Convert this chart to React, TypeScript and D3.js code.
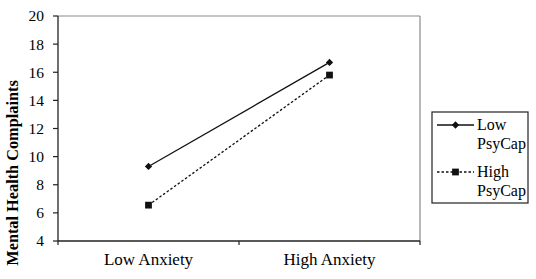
import React from "react";
import * as d3 from "d3";

const categories = ["Low Anxiety", "High Anxiety"];
const lowPsyCap = [9.3, 16.7];
const highPsyCap = [6.55, 15.8];
const yTicks = [4, 6, 8, 10, 12, 14, 16, 18, 20];
const seriesNames = [["Low", "PsyCap"], ["High", "PsyCap"]];

const W = 536;
const H = 279;
const m = { left: 58, right: 420, top: 16, bottom: 241 };
const FONT = "Liberation Serif, serif";
const INK = "#111";

export default function App() {
  const x = d3.scaleBand<string>().domain(categories).range([m.left, m.right]).padding(0);
  const y = d3.scaleLinear().domain([4, 20]).range([m.bottom, m.top]);
  const cx = (c: string) => (x(c) as number) + x.bandwidth() / 2;

  const line = d3
    .line<number>()
    .x((_, i) => cx(categories[i]))
    .y((v) => y(v));

  const diamond = d3.symbol().type(d3.symbolDiamond2).size(34)() as string;
  const square = d3.symbol().type(d3.symbolSquare).size(46)() as string;

  const xEdges = [m.left, ...categories.map((c) => (x(c) as number) + x.bandwidth())];

  const lgX = 432, lgY = 112, lgW = 96, lgH = 91;
  const lineX0 = 437, lineX1 = 474;
  const rowY = [125, 172];

  return (
    <svg width={W} height={H} style={{ position: "absolute", left: 0, top: 0, background: "#fff" }}>
      <rect x={0} y={0} width={W} height={H} fill="#fff" />
      <line x1={m.left} x2={m.right} y1={m.top} y2={m.top} stroke="#8a8a8a" strokeWidth={1.2} />
      <line x1={m.right} x2={m.right} y1={m.top} y2={m.bottom} stroke="#8a8a8a" strokeWidth={1.2} />
      <line x1={m.left} x2={m.left} y1={m.top} y2={m.bottom} stroke="#222" strokeWidth={1.3} />
      {yTicks.map((t) => (
        <g key={t}>
          <line x1={m.left - 5} x2={m.left} y1={y(t)} y2={y(t)} stroke="#222" strokeWidth={1.2} />
          <text x={44} y={y(t)} dy="0.35em" textAnchor="end" style={{ fontFamily: FONT }} fontSize={15.5} fill="#000">
            {t}
          </text>
        </g>
      ))}
      <line x1={m.left} x2={m.right} y1={m.bottom} y2={m.bottom} stroke="#222" strokeWidth={1.3} />
      {xEdges.map((e, i) => (
        <line key={i} x1={e} x2={e} y1={m.bottom} y2={m.bottom + 4} stroke="#222" strokeWidth={1.2} />
      ))}
      {categories.map((c) => (
        <text key={c} x={cx(c)} y={265} textAnchor="middle" style={{ fontFamily: FONT }} fontSize={17} fill="#000">
          {c}
        </text>
      ))}
      <text
        transform={`translate(18, 173) rotate(-90)`}
        textAnchor="middle"
        style={{ fontFamily: FONT }}
        fontWeight="bold"
        fontSize={16.3}
        fill="#000"
      >
        Mental Health Complaints
      </text>
      <path d={line(lowPsyCap) as string} fill="none" stroke={INK} strokeWidth={1.3} />
      <path d={line(highPsyCap) as string} fill="none" stroke={INK} strokeWidth={1.3} strokeDasharray="2.5,2" />
      {lowPsyCap.map((v, i) => (
        <path key={"l" + i} d={diamond} transform={`translate(${cx(categories[i])},${y(v)})`} fill={INK} />
      ))}
      {highPsyCap.map((v, i) => (
        <path key={"h" + i} d={square} transform={`translate(${cx(categories[i])},${y(v)})`} fill={INK} />
      ))}
      <rect x={lgX} y={lgY} width={lgW} height={lgH} fill="#fff" stroke="#222" strokeWidth={1.2} />
      {seriesNames.map((nm, i) => (
        <g key={i}>
          <line
            x1={lineX0}
            x2={lineX1}
            y1={rowY[i]}
            y2={rowY[i]}
            stroke={INK}
            strokeWidth={1.3}
            strokeDasharray={i === 1 ? "2.5,2" : undefined}
          />
          <path
            d={i === 0 ? diamond : square}
            transform={`translate(${(lineX0 + lineX1) / 2},${rowY[i]})`}
            fill={INK}
          />
          <text x={477} y={rowY[i] + 5} style={{ fontFamily: FONT }} fontSize={16} fill="#000">
            {nm[0]}
          </text>
          <text x={477} y={rowY[i] + 24} style={{ fontFamily: FONT }} fontSize={16} fill="#000">
            {nm[1]}
          </text>
        </g>
      ))}
    </svg>
  );
}
